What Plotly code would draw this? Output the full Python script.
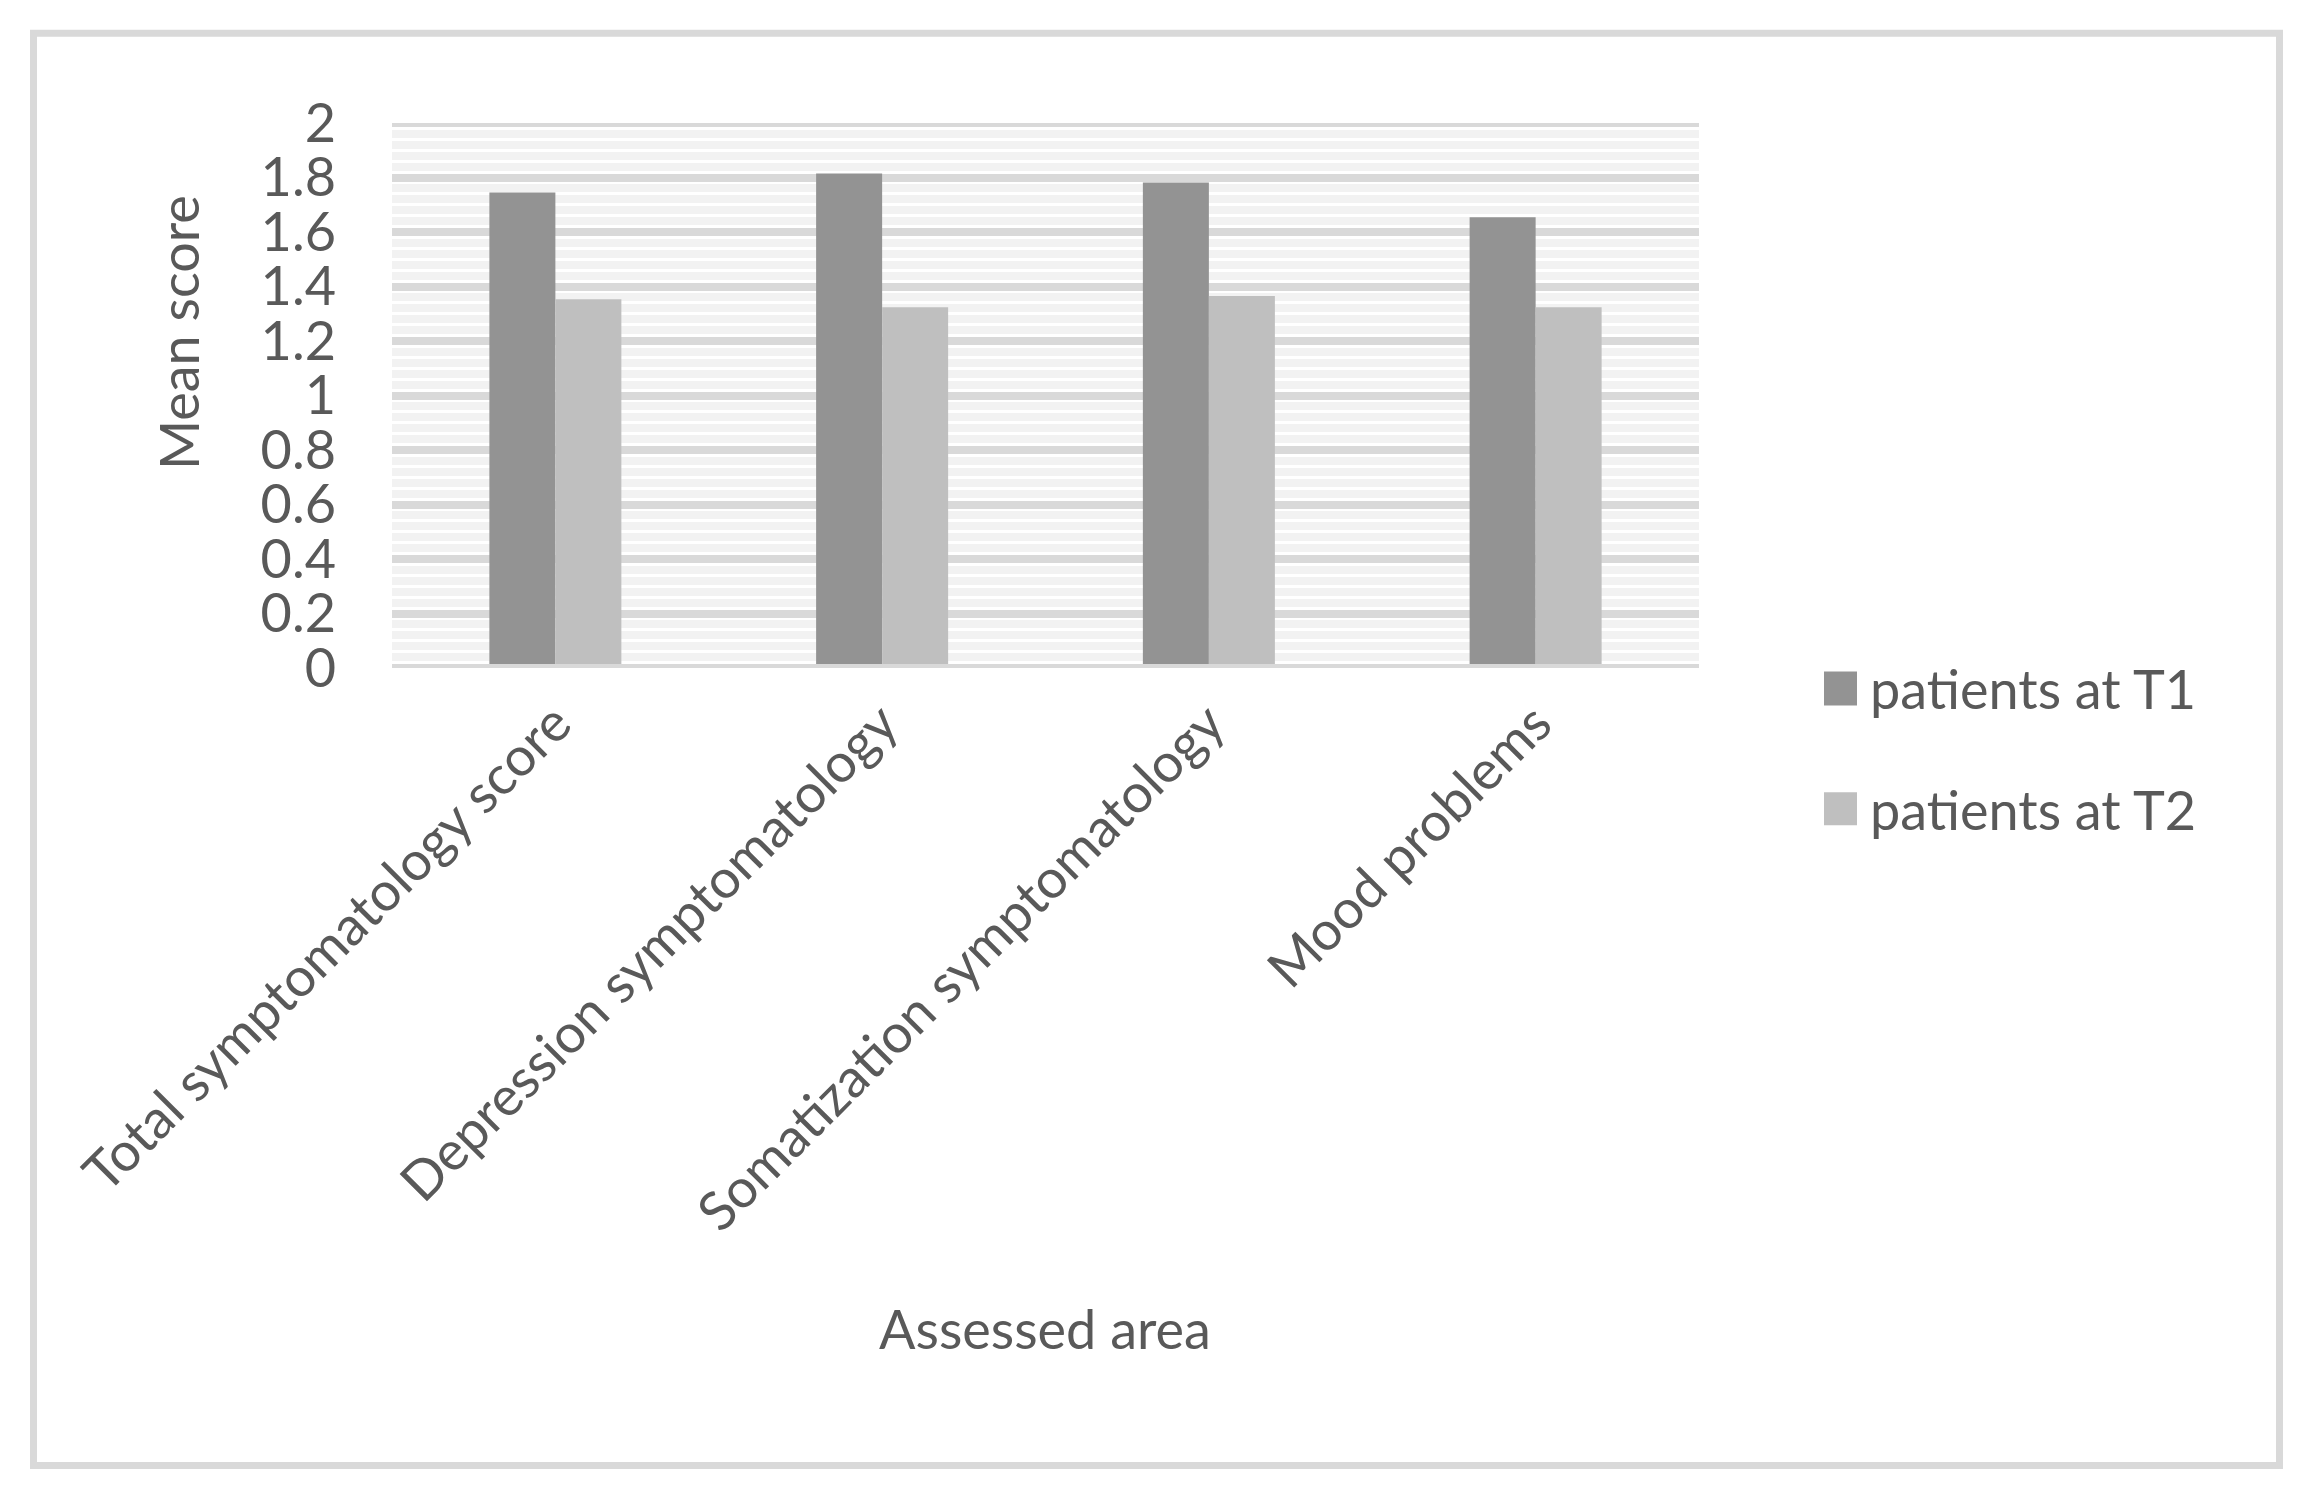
import plotly.graph_objects as go

categories = ["Total symptomatology score", "Depression symptomatology",
              "Somatization symptomatology", "Mood problems"]
t1_values = [1.745, 1.815, 1.782, 1.654]
t2_values = [1.353, 1.324, 1.365, 1.324]
series_names = ["patients at T1", "patients at T2"]
y_ticks = [0, 0.2, 0.4, 0.6, 0.8, 1, 1.2, 1.4, 1.6, 1.8, 2]
y_ticklabels = ["0", "0.2", "0.4", "0.6", "0.8", "1", "1.2", "1.4", "1.6", "1.8", "2"]

W, H = 2322, 1497
OFF = 8  # default page body margin
L, R = 392, 1699
T, B = 122.5, 668.5
PW, PH = R - L, B - T

def xp(px):
    return (px - L) / PW

def yp(py):
    return (B - py) / PH

C1, C2 = "#939393", "#bfbfbf"
TXT = "#595959"
FONT = "Lato"
FS = 54

fig = go.Figure()
fig.add_trace(go.Bar(x=categories, y=t1_values, name=series_names[0],
                     marker=dict(color=C1, line=dict(width=0)), showlegend=False))
fig.add_trace(go.Bar(x=categories, y=t2_values, name=series_names[1],
                     marker=dict(color=C2, line=dict(width=0)), showlegend=False))

shapes = [
    dict(type="line", xref="paper", yref="y", x0=0, x1=1, y0=2, y1=2,
         line=dict(color="#d9d9d9", width=8), layer="below"),
    dict(type="line", xref="paper", yref="y", x0=0, x1=1, y0=0, y1=0,
         line=dict(color="#d9d9d9", width=8), layer="above"),
    dict(type="rect", xref="paper", yref="paper",
         x0=xp(33.5), x1=xp(2279.5), y0=yp(32.5), y1=yp(1467.5),
         line=dict(color="#d9d9d9", width=7), fillcolor="rgba(0,0,0,0)"),
    dict(type="rect", xref="paper", yref="paper",
         x0=xp(1824), x1=xp(1857), y0=yp(672), y1=yp(706),
         line=dict(width=0), fillcolor=C1),
    dict(type="rect", xref="paper", yref="paper",
         x0=xp(1824), x1=xp(1857), y0=yp(793), y1=yp(826),
         line=dict(width=0), fillcolor=C2),
]

annotations = [
    dict(text="Mean score", xref="paper", yref="paper", x=xp(178), y=yp(333),
         textangle=-90, showarrow=False, xanchor="center", yanchor="middle",
         font=dict(family=FONT, size=FS, color=TXT)),
    dict(text="Assessed area", xref="paper", yref="paper", x=xp(1045), y=yp(1330),
         showarrow=False, xanchor="center", yanchor="middle",
         font=dict(family=FONT, size=FS, color=TXT)),
    dict(text=series_names[0], xref="paper", yref="paper", x=xp(1868), y=yp(689),
         showarrow=False, xanchor="left", yanchor="middle",
         font=dict(family=FONT, size=FS, color=TXT)),
    dict(text=series_names[1], xref="paper", yref="paper", x=xp(1868), y=yp(810),
         showarrow=False, xanchor="left", yanchor="middle",
         font=dict(family=FONT, size=FS, color=TXT)),
]

fig.update_layout(
    width=W - 2 * OFF, height=H - 2 * OFF,
    margin=dict(l=L - OFF, r=W - OFF - R, t=T - OFF, b=H - OFF - B, pad=0),
    paper_bgcolor="white", plot_bgcolor="white",
    barmode="group", bargap=0.596, bargroupgap=0,
    font=dict(family=FONT, size=FS, color=TXT),
    shapes=shapes, annotations=annotations,
    showlegend=False,
    xaxis=dict(showgrid=False, showline=False, zeroline=False, ticks="",
               tickangle=-45, tickfont=dict(family=FONT, size=FS, color=TXT),
               ticklabelstandoff=12),
    yaxis=dict(range=[0, 2], tickvals=y_ticks, ticktext=y_ticklabels,
               showgrid=True, gridcolor="#d9d9d9", gridwidth=8,
               zeroline=False, showline=False, ticks="",
               tickfont=dict(family=FONT, size=FS, color=TXT),
               ticklabelstandoff=55,
               minor=dict(dtick=0.04, tick0=0, showgrid=True,
                          gridcolor="#f2f2f2", gridwidth=8, ticks="")),
)

fig.write_html("out.html")
